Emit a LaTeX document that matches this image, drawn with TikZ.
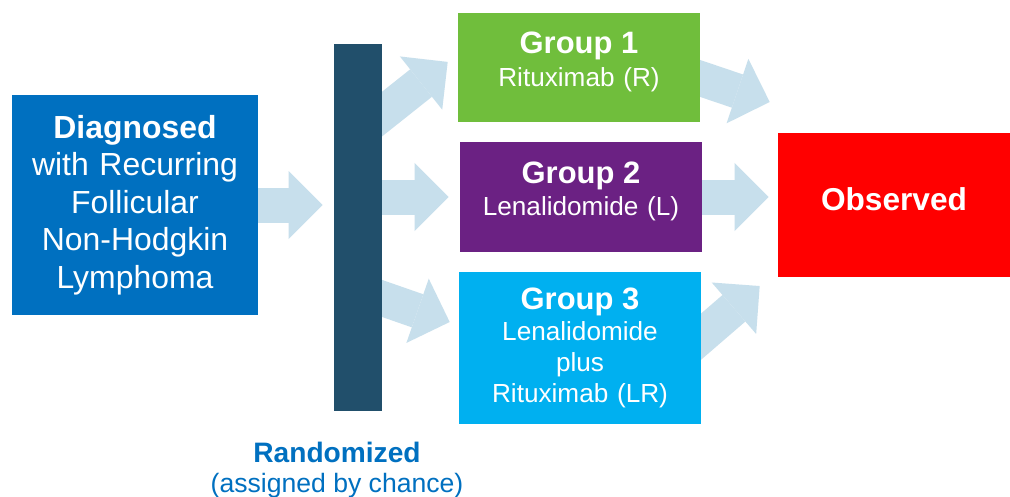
\documentclass[tikz,border=0pt]{standalone}
\usepackage{fontspec}
\setmainfont{Liberation Sans}
\usetikzlibrary{arrows.meta,positioning,calc}

\definecolor{diagblue}{RGB}{0,112,192}
\definecolor{barnavy}{RGB}{33,79,107}
\definecolor{arrowpale}{RGB}{199,223,236}
\definecolor{grpgreen}{RGB}{112,190,60}
\definecolor{grppurple}{RGB}{107,33,131}
\definecolor{grpcyan}{RGB}{0,176,240}

\pgfdeclarelayer{paper}
\pgfdeclarelayer{arrowlayer}
\pgfsetlayers{paper,arrowlayer,main}

\tikzset{
  boxnode/.style={inner sep=0pt, align=center, text=white},
  grpbox/.style={boxnode, minimum width=6.05cm, text width=6.05cm,
    font=\fontsize{18.6}{22}\selectfont},
  flow/.style={draw=arrowpale, line width=0.875cm,
    -{Triangle[width=1.7cm,length=0.85cm,line width=0pt,fill=arrowpale]}},
}
\newcommand{\grptitle}[1]{{\bfseries\fontsize{22}{26}\selectfont #1}}

\begin{document}
\begin{tikzpicture}[x=0.025cm,y=-0.025cm]
    \useasboundingbox (0,0) rectangle (1010,496);
    \begin{pgfonlayer}{paper}
      \fill[white] (0,0) rectangle (1010,496);
    \end{pgfonlayer}

    % boxes
    \node[boxnode, fill=diagblue, minimum width=6.15cm, text width=6.15cm,
      minimum height=5.5cm, font=\fontsize{22.7}{26.7}\selectfont] (diag) at (135,205)
      {\textbf{Diagnosed}\\with Recurring\\Follicular\\Non-Hodgkin\\Lymphoma};
    \node[fill=barnavy, minimum width=1.2cm, minimum height=9.175cm, inner sep=0pt] (bar) at (358,227.5) {};
    \node[grpbox, fill=grpgreen, minimum height=2.725cm, text depth=1.22cm] (g1) at (579,67.5)
      {\grptitle{Group 1}\\[1pt]Rituximab (R)};
    \node[grpbox, fill=grppurple, minimum height=2.75cm, text depth=1.22cm] (g2) at (581,197)
      {\grptitle{Group 2}\\[1pt]Lenalidomide (L)};
    \node[grpbox, fill=grpcyan, minimum height=3.8cm] (g3) at (580,348)
      {\grptitle{Group 3}\\Lenalidomide\\plus\\Rituximab (LR)};
    \node[boxnode, fill=red, minimum width=5.8cm, minimum height=3.6cm, text depth=0.275cm,
      font=\bfseries\fontsize{22.5}{26}\selectfont] (obs) at (894,205) {Observed};

    \node[text=diagblue, align=center, inner sep=0pt,
      font=\fontsize{18.9}{21.3}\selectfont] (rand) at (337,470)
      {\textbf{\fontsize{20}{24}\selectfont Randomized}\\(assigned by chance)};

    % block arrows, behind the boxes
    \coordinate (b1) at ([yshift=2.84cm]bar.east);
    \coordinate (t1) at ([xshift=-0.25cm,yshift=0.14cm]g1.west);
    \coordinate (b3) at ([yshift=-1.775cm]bar.east);
    \coordinate (t3) at ([xshift=-0.225cm,yshift=0.65cm]g3.west);
    \coordinate (s1) at ([yshift=-0.275cm]g1.east);
    \coordinate (o1) at ([xshift=-0.2cm,yshift=2.575cm]obs.west);
    \coordinate (s3) at ([yshift=0.29cm]g3.east);
    \coordinate (o3) at ([xshift=-0.45cm,yshift=-2.025cm]obs.west);
    \begin{pgfonlayer}{arrowlayer}
      \draw[flow] (diag.east) -- ([xshift=-0.275cm]bar.west |- diag.east);
      \draw[flow] ($(b1)!-0.6cm!(t1)$) -- (t1);
      \draw[flow] (bar.east |- g2.west) -- ([xshift=-0.275cm]g2.west);
      \draw[flow] ($(b3)!-0.6cm!(t3)$) -- (t3);
      \draw[flow] ($(s1)!-0.6cm!(o1)$) -- (o1);
      \draw[flow] (g2.east) -- ([xshift=-0.225cm]obs.west |- g2.east);
      \draw[flow] ($(s3)!-0.6cm!(o3)$) -- (o3);
    \end{pgfonlayer}
\end{tikzpicture}
\end{document}
